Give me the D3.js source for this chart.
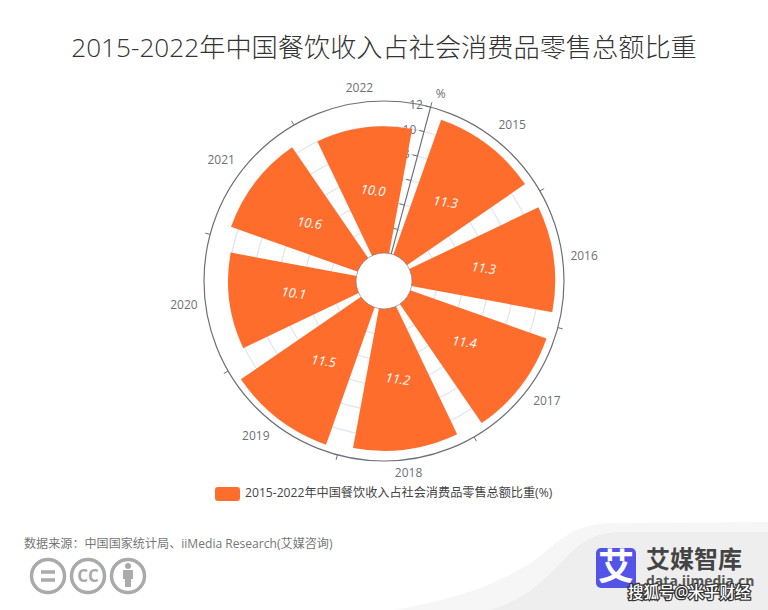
<!DOCTYPE html>
<html><head><meta charset="utf-8">
<script src="https://cdn.jsdelivr.net/npm/d3@7"></script>
<style>html,body{margin:0;padding:0;background:#fff}svg{display:block}text{font-family:"Open Sans","Noto Sans CJK SC",sans-serif}</style>
</head><body><svg id="c" width="768" height="610"></svg>
<script>
const titleText = "2015-2022年中国餐饮收入占社会消费品零售总额比重";
const seriesName = "2015-2022年中国餐饮收入占社会消费品零售总额比重(%)";
const sourceText = "数据来源：中国国家统计局、iiMedia Research(艾媒咨询)";
const years = ["2015","2016","2017","2018","2019","2020","2021","2022"];
const values = [11.3,11.3,11.4,11.2,11.5,10.1,10.6,10.0];
const radialTicks = [0,2,4,6,8,10,12];

const W=768,H=610,cx=384,cy=281,R0=28,R1=180;
const svg=d3.select("#c");
const rad=d=>d*Math.PI/180;
const startDeg=15;
const angle=d3.scaleBand().domain(years).range([rad(startDeg),rad(startDeg+360)]).paddingInner(0.2).paddingOuter(0.1);
const r=d3.scaleLinear().domain([0,12]).range([R0,R1]);
const mid=y=>angle(y)+angle.bandwidth()/2;

// footer background
const bg=svg.append("g");
bg.append("path").attr("d","M395,610 C450,600 505,585 545,552 C565,535 580,523 615,523 L768,522 L768,610 Z").attr("fill","#f6f6f6");
bg.append("path").attr("d","M490,610 C525,600 545,580 570,553 C585,540 595,532 625,532 L768,532 L768,610 Z").attr("fill","#eeeeee");

svg.append("text").attr("x",cx).attr("y",57).attr("text-anchor","middle").attr("font-size",26.2).attr("font-weight",300).attr("fill","#333").text(titleText);

const g=svg.append("g").attr("transform",`translate(${cx},${cy})`);
// split arcs
const full=d3.arc();
g.selectAll("path.split").data(radialTicks.slice(1,-1)).join("path").attr("class","split")
 .attr("d",v=>full({innerRadius:r(v),outerRadius:r(v),startAngle:0,endAngle:2*Math.PI}))
 .attr("fill","none").attr("stroke","#E0E6F1");
// angle-axis circle
g.append("circle").attr("r",R1).attr("fill","none").attr("stroke","#6E7079").attr("stroke-width",1.2);
// angle ticks
const boundaries=years.map(y=>angle(y)-angle.step()*0.1);
g.selectAll("line.at").data(boundaries).join("line").attr("class","at")
 .attr("x1",a=>Math.sin(a)*R1).attr("y1",a=>-Math.cos(a)*R1)
 .attr("x2",a=>Math.sin(a)*(R1+5)).attr("y2",a=>-Math.cos(a)*(R1+5))
 .attr("stroke","#6E7079");
// radial axis
const axA=rad(startDeg), ux=Math.sin(axA), uy=-Math.cos(axA);
g.append("line").attr("x1",ux*r(0)).attr("y1",uy*r(0)).attr("x2",ux*r(12)).attr("y2",uy*r(12)).attr("stroke","#6E7079").attr("stroke-width",1.2);
radialTicks.forEach(v=>{
  const px=ux*r(v),py=uy*r(v);
  g.append("line").attr("x1",px).attr("y1",py).attr("x2",px-5*Math.cos(axA)).attr("y2",py-5*Math.sin(axA)).attr("stroke","#6E7079");
  g.append("text").attr("x",px-8*Math.cos(axA)).attr("y",py-8*Math.sin(axA)+4).attr("text-anchor","end").attr("font-size",12).attr("fill","#6E7079").text(v);
});
g.append("text").attr("x",ux*R1+10).attr("y",uy*R1-9).attr("text-anchor","middle").attr("font-size",12).attr("fill","#6E7079").text("%");
// bars
const arc=d3.arc();
g.selectAll("path.bar").data(years).join("path").attr("class","bar")
 .attr("d",(y,i)=>arc({innerRadius:0,outerRadius:r(values[i]),startAngle:angle(y),endAngle:angle(y)+angle.bandwidth()}))
 .attr("fill","#FF6D2C");
g.append("circle").attr("r",R0).attr("fill","#fff");
g.append("circle").attr("r",R0).attr("fill","none").attr("stroke","#6E7079").attr("stroke-width",0.6);
// angle labels
years.forEach(y=>{
  const a=mid(y),sx=Math.sin(a),sy=-Math.cos(a);
  const anchor=sx>0.2?"start":(sx<-0.2?"end":"middle");
  const dy=sy<-0.3?-2.5:(sy>0.3?10:3.5);
  g.append("text").attr("x",sx*188).attr("y",sy*188+dy).attr("text-anchor",anchor).attr("font-size",12).attr("fill","#6E7079").text(y);
});
// value labels
years.forEach((y,i)=>{
  const a=mid(y),rm=(R0+r(values[i]))/2,x=Math.sin(a)*rm+1,yy=-Math.cos(a)*rm;
  g.append("text").attr("transform",`translate(${x},${yy}) rotate(7)`).attr("text-anchor","middle").attr("dy","0.35em")
   .attr("font-size",13).attr("font-weight",500).attr("font-style","italic").attr("fill","#fff").text(values[i].toFixed(1));
});
// legend
svg.append("rect").attr("x",215).attr("y",487).attr("width",25).attr("height",14).attr("rx",3).attr("fill","#FF6D2C");
svg.append("text").attr("x",245).attr("y",497).attr("font-size",12.15).attr("fill","#444").text(seriesName);
// source
svg.append("text").attr("x",24).attr("y",548).attr("font-size",12.1).attr("fill","#777").text(sourceText);
// CC icons
const ic=svg.append("g").attr("fill","none").attr("stroke","#aaa").attr("stroke-width",3.5);
[48,88,128].forEach(x=>ic.append("circle").attr("cx",x).attr("cy",576).attr("r",16.5));
ic.append("line").attr("x1",41).attr("x2",55).attr("y1",572).attr("y2",572);
ic.append("line").attr("x1",41).attr("x2",55).attr("y1",580).attr("y2",580);
svg.append("text").attr("x",88).attr("y",582).attr("text-anchor","middle").attr("font-size",17).attr("font-weight",700).attr("fill","#aaa").text("CC");
svg.append("circle").attr("cx",128).attr("cy",566).attr("r",3).attr("fill","#aaa");
svg.append("path").attr("d","M123,570 h10 v9 h-2 v8 h-6 v-8 h-2 Z").attr("fill","#aaa");
// logo
svg.append("rect").attr("x",596).attr("y",548).attr("width",40).attr("height",40).attr("rx",5).attr("fill","#5353E8");
svg.append("text").attr("x",616).attr("y",580).attr("text-anchor","middle").attr("font-size",36).attr("font-weight",700).attr("fill","#fff").text("艾");
svg.append("text").attr("x",646).attr("y",568).attr("font-size",24).attr("font-weight",700).attr("fill","#444").text("艾媒智库");
svg.append("text").attr("x",646).attr("y",586).attr("font-size",14).attr("font-weight",700).attr("fill","#555").text("data.iimedia.cn");
svg.append("text").attr("x",628).attr("y",598).attr("font-size",15.5).attr("font-weight",500).attr("fill","#fff").attr("stroke","#333").attr("stroke-width",2.5).attr("paint-order","stroke").text("搜狐号@米乎财经");
</script></body></html>
